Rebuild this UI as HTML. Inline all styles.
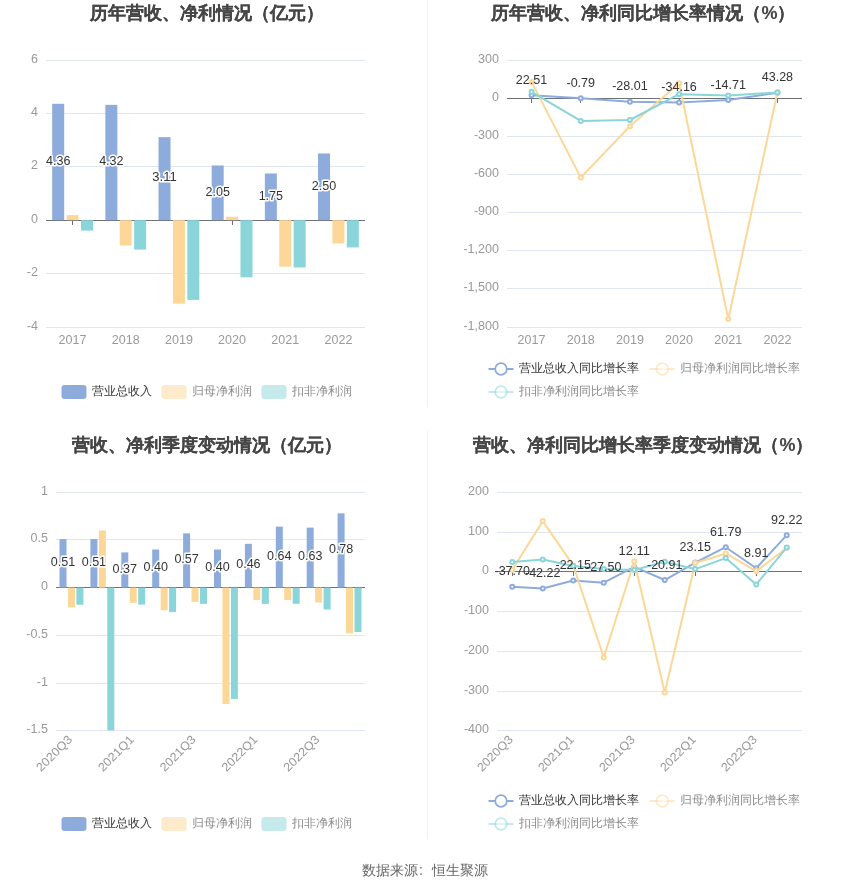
<!DOCTYPE html>
<html><head><meta charset="utf-8"><style>
html,body{margin:0;padding:0;background:#fff;}
svg{display:block;font-family:'Liberation Sans', sans-serif;will-change:transform;}
</style></head><body>
<svg width="850" height="891" viewBox="0 0 850 891">
<rect width="850" height="891" fill="#fff"/>
<rect x="427" y="0" width="1" height="407" fill="#F2F2F2"/>
<rect x="427" y="431" width="1" height="408" fill="#F2F2F2"/>
<text x="206.50" y="18.50" font-size="18" fill="#464646" text-anchor="middle" font-weight="bold"  stroke="#464646" stroke-width="0.12">历年营收、净利情况（亿元）</text>
<rect x="46.00" y="60" width="319.00" height="1" fill="#E0E6F1"/>
<text x="38.00" y="62.80" font-size="12" fill="#999999" text-anchor="end" font-weight="normal" textLength="6.97" lengthAdjust="spacingAndGlyphs" >6</text>
<rect x="46.00" y="113" width="319.00" height="1" fill="#E0E6F1"/>
<text x="38.00" y="115.80" font-size="12" fill="#999999" text-anchor="end" font-weight="normal" textLength="6.97" lengthAdjust="spacingAndGlyphs" >4</text>
<rect x="46.00" y="166" width="319.00" height="1" fill="#E0E6F1"/>
<text x="38.00" y="168.80" font-size="12" fill="#999999" text-anchor="end" font-weight="normal" textLength="6.97" lengthAdjust="spacingAndGlyphs" >2</text>
<text x="38.00" y="222.80" font-size="12" fill="#999999" text-anchor="end" font-weight="normal" textLength="6.97" lengthAdjust="spacingAndGlyphs" >0</text>
<rect x="46.00" y="273" width="319.00" height="1" fill="#E0E6F1"/>
<text x="38.00" y="275.80" font-size="12" fill="#999999" text-anchor="end" font-weight="normal" textLength="11.15" lengthAdjust="spacingAndGlyphs" >-2</text>
<rect x="46.00" y="327" width="319.00" height="1" fill="#E0E6F1"/>
<text x="38.00" y="329.80" font-size="12" fill="#999999" text-anchor="end" font-weight="normal" textLength="11.15" lengthAdjust="spacingAndGlyphs" >-4</text>
<rect x="46.00" y="220" width="319.00" height="1" fill="#6E7079"/>
<rect x="72" y="221" width="1" height="4" fill="#6E7079"/>
<rect x="125" y="221" width="1" height="4" fill="#6E7079"/>
<rect x="178" y="221" width="1" height="4" fill="#6E7079"/>
<rect x="232" y="221" width="1" height="4" fill="#6E7079"/>
<rect x="285" y="221" width="1" height="4" fill="#6E7079"/>
<rect x="338" y="221" width="1" height="4" fill="#6E7079"/>
<rect x="52.18" y="103.79" width="12.00" height="116.41" fill="#8DACDB"/>
<rect x="66.58" y="215.13" width="12.00" height="5.07" fill="#FDD797"/>
<rect x="80.98" y="220.20" width="12.00" height="10.41" fill="#89D5D9"/>
<rect x="105.35" y="104.86" width="12.00" height="115.34" fill="#8DACDB"/>
<rect x="119.75" y="220.20" width="12.00" height="25.36" fill="#FDD797"/>
<rect x="134.15" y="220.20" width="12.00" height="29.37" fill="#89D5D9"/>
<rect x="158.52" y="137.16" width="12.00" height="83.04" fill="#8DACDB"/>
<rect x="172.92" y="220.20" width="12.00" height="83.44" fill="#FDD797"/>
<rect x="187.32" y="220.20" width="12.00" height="79.70" fill="#89D5D9"/>
<rect x="211.68" y="165.47" width="12.00" height="54.73" fill="#8DACDB"/>
<rect x="226.08" y="216.73" width="12.00" height="3.47" fill="#FDD797"/>
<rect x="240.48" y="220.20" width="12.00" height="57.14" fill="#89D5D9"/>
<rect x="264.85" y="173.47" width="12.00" height="46.73" fill="#8DACDB"/>
<rect x="279.25" y="220.20" width="12.00" height="46.46" fill="#FDD797"/>
<rect x="293.65" y="220.20" width="12.00" height="47.26" fill="#89D5D9"/>
<rect x="318.02" y="153.45" width="12.00" height="66.75" fill="#8DACDB"/>
<rect x="332.42" y="220.20" width="12.00" height="23.23" fill="#FDD797"/>
<rect x="346.82" y="220.20" width="12.00" height="27.23" fill="#89D5D9"/>
<text x="58.18" y="164.69" font-size="12" fill="#333333" text-anchor="middle" font-weight="normal" textLength="24.40" lengthAdjust="spacingAndGlyphs" stroke="#fff" stroke-width="3" paint-order="stroke" stroke-linejoin="round">4.36</text>
<text x="111.35" y="165.23" font-size="12" fill="#333333" text-anchor="middle" font-weight="normal" textLength="24.40" lengthAdjust="spacingAndGlyphs" stroke="#fff" stroke-width="3" paint-order="stroke" stroke-linejoin="round">4.32</text>
<text x="164.52" y="181.38" font-size="12" fill="#333333" text-anchor="middle" font-weight="normal" textLength="24.40" lengthAdjust="spacingAndGlyphs" stroke="#fff" stroke-width="3" paint-order="stroke" stroke-linejoin="round">3.11</text>
<text x="217.68" y="195.53" font-size="12" fill="#333333" text-anchor="middle" font-weight="normal" textLength="24.40" lengthAdjust="spacingAndGlyphs" stroke="#fff" stroke-width="3" paint-order="stroke" stroke-linejoin="round">2.05</text>
<text x="270.85" y="199.54" font-size="12" fill="#333333" text-anchor="middle" font-weight="normal" textLength="24.40" lengthAdjust="spacingAndGlyphs" stroke="#fff" stroke-width="3" paint-order="stroke" stroke-linejoin="round">1.75</text>
<text x="324.02" y="189.52" font-size="12" fill="#333333" text-anchor="middle" font-weight="normal" textLength="24.40" lengthAdjust="spacingAndGlyphs" stroke="#fff" stroke-width="3" paint-order="stroke" stroke-linejoin="round">2.50</text>
<text x="72.58" y="344.00" font-size="12" fill="#999999" text-anchor="middle" font-weight="normal" textLength="27.89" lengthAdjust="spacingAndGlyphs" >2017</text>
<text x="125.75" y="344.00" font-size="12" fill="#999999" text-anchor="middle" font-weight="normal" textLength="27.89" lengthAdjust="spacingAndGlyphs" >2018</text>
<text x="178.92" y="344.00" font-size="12" fill="#999999" text-anchor="middle" font-weight="normal" textLength="27.89" lengthAdjust="spacingAndGlyphs" >2019</text>
<text x="232.08" y="344.00" font-size="12" fill="#999999" text-anchor="middle" font-weight="normal" textLength="27.89" lengthAdjust="spacingAndGlyphs" >2020</text>
<text x="285.25" y="344.00" font-size="12" fill="#999999" text-anchor="middle" font-weight="normal" textLength="27.89" lengthAdjust="spacingAndGlyphs" >2021</text>
<text x="338.42" y="344.00" font-size="12" fill="#999999" text-anchor="middle" font-weight="normal" textLength="27.89" lengthAdjust="spacingAndGlyphs" >2022</text>
<rect x="61.50" y="385" width="25" height="14" rx="3" ry="3" fill="#8DACDB" opacity="1"/>
<text x="91.50" y="395.30" font-size="12" fill="#333333" text-anchor="start" font-weight="normal"  opacity="1">营业总收入</text>
<rect x="161.50" y="385" width="25" height="14" rx="3" ry="3" fill="#FDD797" opacity="0.5"/>
<text x="191.50" y="395.30" font-size="12" fill="#333333" text-anchor="start" font-weight="normal"  opacity="0.58">归母净利润</text>
<rect x="261.50" y="385" width="25" height="14" rx="3" ry="3" fill="#89D5D9" opacity="0.5"/>
<text x="291.50" y="395.30" font-size="12" fill="#333333" text-anchor="start" font-weight="normal"  opacity="0.58">扣非净利润</text>
<text x="643.50" y="18.50" font-size="18" fill="#464646" text-anchor="middle" font-weight="bold"  stroke="#464646" stroke-width="0.12">历年营收、净利同比增长率情况（%）</text>
<rect x="507.00" y="60" width="295.00" height="1" fill="#E0E6F1"/>
<text x="499.00" y="62.80" font-size="12" fill="#999999" text-anchor="end" font-weight="normal" textLength="20.92" lengthAdjust="spacingAndGlyphs" >300</text>
<text x="499.00" y="100.80" font-size="12" fill="#999999" text-anchor="end" font-weight="normal" textLength="6.97" lengthAdjust="spacingAndGlyphs" >0</text>
<rect x="507.00" y="136" width="295.00" height="1" fill="#E0E6F1"/>
<text x="499.00" y="138.80" font-size="12" fill="#999999" text-anchor="end" font-weight="normal" textLength="25.09" lengthAdjust="spacingAndGlyphs" >-300</text>
<rect x="507.00" y="174" width="295.00" height="1" fill="#E0E6F1"/>
<text x="499.00" y="176.80" font-size="12" fill="#999999" text-anchor="end" font-weight="normal" textLength="25.09" lengthAdjust="spacingAndGlyphs" >-600</text>
<rect x="507.00" y="212" width="295.00" height="1" fill="#E0E6F1"/>
<text x="499.00" y="214.80" font-size="12" fill="#999999" text-anchor="end" font-weight="normal" textLength="25.09" lengthAdjust="spacingAndGlyphs" >-900</text>
<rect x="507.00" y="250" width="295.00" height="1" fill="#E0E6F1"/>
<text x="499.00" y="252.80" font-size="12" fill="#999999" text-anchor="end" font-weight="normal" textLength="35.55" lengthAdjust="spacingAndGlyphs" >-1,200</text>
<rect x="507.00" y="288" width="295.00" height="1" fill="#E0E6F1"/>
<text x="499.00" y="290.80" font-size="12" fill="#999999" text-anchor="end" font-weight="normal" textLength="35.55" lengthAdjust="spacingAndGlyphs" >-1,500</text>
<rect x="507.00" y="327" width="295.00" height="1" fill="#E0E6F1"/>
<text x="499.00" y="329.80" font-size="12" fill="#999999" text-anchor="end" font-weight="normal" textLength="35.55" lengthAdjust="spacingAndGlyphs" >-1,800</text>
<rect x="507.00" y="98" width="295.00" height="1" fill="#6E7079"/>
<rect x="531" y="99" width="1" height="4" fill="#6E7079"/>
<rect x="580" y="99" width="1" height="4" fill="#6E7079"/>
<rect x="629" y="99" width="1" height="4" fill="#6E7079"/>
<rect x="679" y="99" width="1" height="4" fill="#6E7079"/>
<rect x="728" y="99" width="1" height="4" fill="#6E7079"/>
<rect x="777" y="99" width="1" height="4" fill="#6E7079"/>
<polyline points="531.58,95.28 580.75,98.24 629.92,101.70 679.08,102.49 728.25,100.01 777.42,92.64" fill="none" stroke="#8DACDB" stroke-width="2" stroke-linejoin="round"/>
<circle cx="531.58" cy="95.28" r="2" fill="#fff" stroke="#8DACDB" stroke-width="2"/>
<circle cx="580.75" cy="98.24" r="2" fill="#fff" stroke="#8DACDB" stroke-width="2"/>
<circle cx="629.92" cy="101.70" r="2" fill="#fff" stroke="#8DACDB" stroke-width="2"/>
<circle cx="679.08" cy="102.49" r="2" fill="#fff" stroke="#8DACDB" stroke-width="2"/>
<circle cx="728.25" cy="100.01" r="2" fill="#fff" stroke="#8DACDB" stroke-width="2"/>
<circle cx="777.42" cy="92.64" r="2" fill="#fff" stroke="#8DACDB" stroke-width="2"/>
<polyline points="531.58,81.91 580.75,177.61 629.92,126.20 679.08,83.20 728.25,319.12 777.42,92.17" fill="none" stroke="#FDD797" stroke-width="2" stroke-linejoin="round"/>
<circle cx="531.58" cy="81.91" r="2" fill="#fff" stroke="#FDD797" stroke-width="2"/>
<circle cx="580.75" cy="177.61" r="2" fill="#fff" stroke="#FDD797" stroke-width="2"/>
<circle cx="629.92" cy="126.20" r="2" fill="#fff" stroke="#FDD797" stroke-width="2"/>
<circle cx="679.08" cy="83.20" r="2" fill="#fff" stroke="#FDD797" stroke-width="2"/>
<circle cx="728.25" cy="319.12" r="2" fill="#fff" stroke="#FDD797" stroke-width="2"/>
<circle cx="777.42" cy="92.17" r="2" fill="#fff" stroke="#FDD797" stroke-width="2"/>
<polyline points="531.58,91.79 580.75,120.90 629.92,120.01 679.08,94.20 728.25,95.60 777.42,92.42" fill="none" stroke="#89D5D9" stroke-width="2" stroke-linejoin="round"/>
<circle cx="531.58" cy="91.79" r="2" fill="#fff" stroke="#89D5D9" stroke-width="2"/>
<circle cx="580.75" cy="120.90" r="2" fill="#fff" stroke="#89D5D9" stroke-width="2"/>
<circle cx="629.92" cy="120.01" r="2" fill="#fff" stroke="#89D5D9" stroke-width="2"/>
<circle cx="679.08" cy="94.20" r="2" fill="#fff" stroke="#89D5D9" stroke-width="2"/>
<circle cx="728.25" cy="95.60" r="2" fill="#fff" stroke="#89D5D9" stroke-width="2"/>
<circle cx="777.42" cy="92.42" r="2" fill="#fff" stroke="#89D5D9" stroke-width="2"/>
<text x="531.58" y="83.78" font-size="12" fill="#333333" text-anchor="middle" font-weight="normal" textLength="31.38" lengthAdjust="spacingAndGlyphs" >22.51</text>
<text x="580.75" y="86.74" font-size="12" fill="#333333" text-anchor="middle" font-weight="normal" textLength="28.58" lengthAdjust="spacingAndGlyphs" >-0.79</text>
<text x="629.92" y="90.20" font-size="12" fill="#333333" text-anchor="middle" font-weight="normal" textLength="35.55" lengthAdjust="spacingAndGlyphs" >-28.01</text>
<text x="679.08" y="90.99" font-size="12" fill="#333333" text-anchor="middle" font-weight="normal" textLength="35.55" lengthAdjust="spacingAndGlyphs" >-34.16</text>
<text x="728.25" y="88.51" font-size="12" fill="#333333" text-anchor="middle" font-weight="normal" textLength="35.55" lengthAdjust="spacingAndGlyphs" >-14.71</text>
<text x="777.42" y="81.14" font-size="12" fill="#333333" text-anchor="middle" font-weight="normal" textLength="31.38" lengthAdjust="spacingAndGlyphs" >43.28</text>
<text x="531.58" y="344.00" font-size="12" fill="#999999" text-anchor="middle" font-weight="normal" textLength="27.89" lengthAdjust="spacingAndGlyphs" >2017</text>
<text x="580.75" y="344.00" font-size="12" fill="#999999" text-anchor="middle" font-weight="normal" textLength="27.89" lengthAdjust="spacingAndGlyphs" >2018</text>
<text x="629.92" y="344.00" font-size="12" fill="#999999" text-anchor="middle" font-weight="normal" textLength="27.89" lengthAdjust="spacingAndGlyphs" >2019</text>
<text x="679.08" y="344.00" font-size="12" fill="#999999" text-anchor="middle" font-weight="normal" textLength="27.89" lengthAdjust="spacingAndGlyphs" >2020</text>
<text x="728.25" y="344.00" font-size="12" fill="#999999" text-anchor="middle" font-weight="normal" textLength="27.89" lengthAdjust="spacingAndGlyphs" >2021</text>
<text x="777.42" y="344.00" font-size="12" fill="#999999" text-anchor="middle" font-weight="normal" textLength="27.89" lengthAdjust="spacingAndGlyphs" >2022</text>
<line x1="488.5" y1="369" x2="513.5" y2="369" stroke="#8DACDB" stroke-width="2" opacity="1"/>
<circle cx="501.0" cy="369" r="5.8" fill="#fff" stroke="#8DACDB" stroke-width="1.8" opacity="1"/>
<text x="518.50" y="372.30" font-size="12" fill="#333333" text-anchor="start" font-weight="normal"  opacity="1">营业总收入同比增长率</text>
<line x1="649.8" y1="369" x2="674.8" y2="369" stroke="#FDD797" stroke-width="2" opacity="0.5"/>
<circle cx="662.3" cy="369" r="5.8" fill="#fff" stroke="#FDD797" stroke-width="1.8" opacity="0.5"/>
<text x="679.80" y="372.30" font-size="12" fill="#333333" text-anchor="start" font-weight="normal"  opacity="0.58">归母净利润同比增长率</text>
<line x1="488.5" y1="392" x2="513.5" y2="392" stroke="#89D5D9" stroke-width="2" opacity="0.5"/>
<circle cx="501.0" cy="392" r="5.8" fill="#fff" stroke="#89D5D9" stroke-width="1.8" opacity="0.5"/>
<text x="518.50" y="395.30" font-size="12" fill="#333333" text-anchor="start" font-weight="normal"  opacity="0.58">扣非净利润同比增长率</text>
<text x="206.50" y="450.50" font-size="18" fill="#464646" text-anchor="middle" font-weight="bold"  stroke="#464646" stroke-width="0.12">营收、净利季度变动情况（亿元）</text>
<rect x="56.00" y="492" width="309.00" height="1" fill="#E0E6F1"/>
<text x="48.00" y="494.80" font-size="12" fill="#999999" text-anchor="end" font-weight="normal" textLength="6.97" lengthAdjust="spacingAndGlyphs" >1</text>
<rect x="56.00" y="539" width="309.00" height="1" fill="#E0E6F1"/>
<text x="48.00" y="541.80" font-size="12" fill="#999999" text-anchor="end" font-weight="normal" textLength="17.43" lengthAdjust="spacingAndGlyphs" >0.5</text>
<text x="48.00" y="589.80" font-size="12" fill="#999999" text-anchor="end" font-weight="normal" textLength="6.97" lengthAdjust="spacingAndGlyphs" >0</text>
<rect x="56.00" y="635" width="309.00" height="1" fill="#E0E6F1"/>
<text x="48.00" y="637.80" font-size="12" fill="#999999" text-anchor="end" font-weight="normal" textLength="21.61" lengthAdjust="spacingAndGlyphs" >-0.5</text>
<rect x="56.00" y="683" width="309.00" height="1" fill="#E0E6F1"/>
<text x="48.00" y="685.80" font-size="12" fill="#999999" text-anchor="end" font-weight="normal" textLength="11.15" lengthAdjust="spacingAndGlyphs" >-1</text>
<rect x="56.00" y="730" width="309.00" height="1" fill="#E0E6F1"/>
<text x="48.00" y="732.80" font-size="12" fill="#999999" text-anchor="end" font-weight="normal" textLength="21.61" lengthAdjust="spacingAndGlyphs" >-1.5</text>
<rect x="56.00" y="587" width="309.00" height="1" fill="#6E7079"/>
<rect x="59.50" y="539.05" width="7.00" height="48.55" fill="#8DACDB"/>
<rect x="67.95" y="587.60" width="7.00" height="19.71" fill="#FDD797"/>
<rect x="76.40" y="587.60" width="7.00" height="17.14" fill="#89D5D9"/>
<rect x="90.40" y="539.05" width="7.00" height="48.55" fill="#8DACDB"/>
<rect x="98.85" y="530.48" width="7.00" height="57.12" fill="#FDD797"/>
<rect x="107.30" y="587.60" width="7.00" height="142.80" fill="#89D5D9"/>
<rect x="121.30" y="552.38" width="7.00" height="35.22" fill="#8DACDB"/>
<rect x="129.75" y="587.60" width="7.00" height="15.23" fill="#FDD797"/>
<rect x="138.20" y="587.60" width="7.00" height="16.95" fill="#89D5D9"/>
<rect x="152.20" y="549.52" width="7.00" height="38.08" fill="#8DACDB"/>
<rect x="160.65" y="587.60" width="7.00" height="22.66" fill="#FDD797"/>
<rect x="169.10" y="587.60" width="7.00" height="24.47" fill="#89D5D9"/>
<rect x="183.10" y="533.34" width="7.00" height="54.26" fill="#8DACDB"/>
<rect x="191.55" y="587.60" width="7.00" height="14.28" fill="#FDD797"/>
<rect x="200.00" y="587.60" width="7.00" height="16.28" fill="#89D5D9"/>
<rect x="214.00" y="549.52" width="7.00" height="38.08" fill="#8DACDB"/>
<rect x="222.45" y="587.60" width="7.00" height="116.43" fill="#FDD797"/>
<rect x="230.90" y="587.60" width="7.00" height="111.29" fill="#89D5D9"/>
<rect x="244.90" y="543.81" width="7.00" height="43.79" fill="#8DACDB"/>
<rect x="253.35" y="587.60" width="7.00" height="12.38" fill="#FDD797"/>
<rect x="261.80" y="587.60" width="7.00" height="16.28" fill="#89D5D9"/>
<rect x="275.80" y="526.67" width="7.00" height="60.93" fill="#8DACDB"/>
<rect x="284.25" y="587.60" width="7.00" height="12.38" fill="#FDD797"/>
<rect x="292.70" y="587.60" width="7.00" height="16.18" fill="#89D5D9"/>
<rect x="306.70" y="527.62" width="7.00" height="59.98" fill="#8DACDB"/>
<rect x="315.15" y="587.60" width="7.00" height="14.95" fill="#FDD797"/>
<rect x="323.60" y="587.60" width="7.00" height="21.90" fill="#89D5D9"/>
<rect x="337.60" y="513.34" width="7.00" height="74.26" fill="#8DACDB"/>
<rect x="346.05" y="587.60" width="7.00" height="45.70" fill="#FDD797"/>
<rect x="354.50" y="587.60" width="7.00" height="44.46" fill="#89D5D9"/>
<text x="63.00" y="566.02" font-size="12" fill="#333333" text-anchor="middle" font-weight="normal" textLength="24.40" lengthAdjust="spacingAndGlyphs" stroke="#fff" stroke-width="3" paint-order="stroke" stroke-linejoin="round">0.51</text>
<text x="93.90" y="566.02" font-size="12" fill="#333333" text-anchor="middle" font-weight="normal" textLength="24.40" lengthAdjust="spacingAndGlyphs" stroke="#fff" stroke-width="3" paint-order="stroke" stroke-linejoin="round">0.51</text>
<text x="124.80" y="572.69" font-size="12" fill="#333333" text-anchor="middle" font-weight="normal" textLength="24.40" lengthAdjust="spacingAndGlyphs" stroke="#fff" stroke-width="3" paint-order="stroke" stroke-linejoin="round">0.37</text>
<text x="155.70" y="571.26" font-size="12" fill="#333333" text-anchor="middle" font-weight="normal" textLength="24.40" lengthAdjust="spacingAndGlyphs" stroke="#fff" stroke-width="3" paint-order="stroke" stroke-linejoin="round">0.40</text>
<text x="186.60" y="563.17" font-size="12" fill="#333333" text-anchor="middle" font-weight="normal" textLength="24.40" lengthAdjust="spacingAndGlyphs" stroke="#fff" stroke-width="3" paint-order="stroke" stroke-linejoin="round">0.57</text>
<text x="217.50" y="571.26" font-size="12" fill="#333333" text-anchor="middle" font-weight="normal" textLength="24.40" lengthAdjust="spacingAndGlyphs" stroke="#fff" stroke-width="3" paint-order="stroke" stroke-linejoin="round">0.40</text>
<text x="248.40" y="568.40" font-size="12" fill="#333333" text-anchor="middle" font-weight="normal" textLength="24.40" lengthAdjust="spacingAndGlyphs" stroke="#fff" stroke-width="3" paint-order="stroke" stroke-linejoin="round">0.46</text>
<text x="279.30" y="559.84" font-size="12" fill="#333333" text-anchor="middle" font-weight="normal" textLength="24.40" lengthAdjust="spacingAndGlyphs" stroke="#fff" stroke-width="3" paint-order="stroke" stroke-linejoin="round">0.64</text>
<text x="310.20" y="560.31" font-size="12" fill="#333333" text-anchor="middle" font-weight="normal" textLength="24.40" lengthAdjust="spacingAndGlyphs" stroke="#fff" stroke-width="3" paint-order="stroke" stroke-linejoin="round">0.63</text>
<text x="341.10" y="553.17" font-size="12" fill="#333333" text-anchor="middle" font-weight="normal" textLength="24.40" lengthAdjust="spacingAndGlyphs" stroke="#fff" stroke-width="3" paint-order="stroke" stroke-linejoin="round">0.78</text>
<text font-size="12" fill="#999999" text-anchor="end" textLength="45" lengthAdjust="spacingAndGlyphs" transform="translate(69.85,737.30) rotate(-45)" dy="4.3">2020Q3</text>
<text font-size="12" fill="#999999" text-anchor="end" textLength="45" lengthAdjust="spacingAndGlyphs" transform="translate(131.65,737.30) rotate(-45)" dy="4.3">2021Q1</text>
<text font-size="12" fill="#999999" text-anchor="end" textLength="45" lengthAdjust="spacingAndGlyphs" transform="translate(193.45,737.30) rotate(-45)" dy="4.3">2021Q3</text>
<text font-size="12" fill="#999999" text-anchor="end" textLength="45" lengthAdjust="spacingAndGlyphs" transform="translate(255.25,737.30) rotate(-45)" dy="4.3">2022Q1</text>
<text font-size="12" fill="#999999" text-anchor="end" textLength="45" lengthAdjust="spacingAndGlyphs" transform="translate(317.05,737.30) rotate(-45)" dy="4.3">2022Q3</text>
<rect x="61.50" y="817" width="25" height="14" rx="3" ry="3" fill="#8DACDB" opacity="1"/>
<text x="91.50" y="827.30" font-size="12" fill="#333333" text-anchor="start" font-weight="normal"  opacity="1">营业总收入</text>
<rect x="161.50" y="817" width="25" height="14" rx="3" ry="3" fill="#FDD797" opacity="0.5"/>
<text x="191.50" y="827.30" font-size="12" fill="#333333" text-anchor="start" font-weight="normal"  opacity="0.58">归母净利润</text>
<rect x="261.50" y="817" width="25" height="14" rx="3" ry="3" fill="#89D5D9" opacity="0.5"/>
<text x="291.50" y="827.30" font-size="12" fill="#333333" text-anchor="start" font-weight="normal"  opacity="0.58">扣非净利润</text>
<text x="643.50" y="450.50" font-size="18" fill="#464646" text-anchor="middle" font-weight="bold"  stroke="#464646" stroke-width="0.12">营收、净利同比增长率季度变动情况（%）</text>
<rect x="497.00" y="492" width="305.00" height="1" fill="#E0E6F1"/>
<text x="489.00" y="494.80" font-size="12" fill="#999999" text-anchor="end" font-weight="normal" textLength="20.92" lengthAdjust="spacingAndGlyphs" >200</text>
<rect x="497.00" y="532" width="305.00" height="1" fill="#E0E6F1"/>
<text x="489.00" y="534.80" font-size="12" fill="#999999" text-anchor="end" font-weight="normal" textLength="20.92" lengthAdjust="spacingAndGlyphs" >100</text>
<text x="489.00" y="573.80" font-size="12" fill="#999999" text-anchor="end" font-weight="normal" textLength="6.97" lengthAdjust="spacingAndGlyphs" >0</text>
<rect x="497.00" y="611" width="305.00" height="1" fill="#E0E6F1"/>
<text x="489.00" y="613.80" font-size="12" fill="#999999" text-anchor="end" font-weight="normal" textLength="25.09" lengthAdjust="spacingAndGlyphs" >-100</text>
<rect x="497.00" y="651" width="305.00" height="1" fill="#E0E6F1"/>
<text x="489.00" y="653.80" font-size="12" fill="#999999" text-anchor="end" font-weight="normal" textLength="25.09" lengthAdjust="spacingAndGlyphs" >-200</text>
<rect x="497.00" y="691" width="305.00" height="1" fill="#E0E6F1"/>
<text x="489.00" y="693.80" font-size="12" fill="#999999" text-anchor="end" font-weight="normal" textLength="25.09" lengthAdjust="spacingAndGlyphs" >-300</text>
<rect x="497.00" y="730" width="305.00" height="1" fill="#E0E6F1"/>
<text x="489.00" y="732.80" font-size="12" fill="#999999" text-anchor="end" font-weight="normal" textLength="25.09" lengthAdjust="spacingAndGlyphs" >-400</text>
<rect x="497.00" y="571" width="305.00" height="1" fill="#6E7079"/>
<rect x="512" y="572" width="1" height="4" fill="#6E7079"/>
<rect x="573" y="572" width="1" height="4" fill="#6E7079"/>
<rect x="634" y="572" width="1" height="4" fill="#6E7079"/>
<rect x="695" y="572" width="1" height="4" fill="#6E7079"/>
<rect x="756" y="572" width="1" height="4" fill="#6E7079"/>
<polyline points="512.25,586.69 542.75,588.48 573.25,580.52 603.75,582.64 634.25,566.93 664.75,580.03 695.25,562.55 725.75,547.22 756.25,568.20 786.75,535.15" fill="none" stroke="#8DACDB" stroke-width="2" stroke-linejoin="round"/>
<circle cx="512.25" cy="586.69" r="2" fill="#fff" stroke="#8DACDB" stroke-width="2"/>
<circle cx="542.75" cy="588.48" r="2" fill="#fff" stroke="#8DACDB" stroke-width="2"/>
<circle cx="573.25" cy="580.52" r="2" fill="#fff" stroke="#8DACDB" stroke-width="2"/>
<circle cx="603.75" cy="582.64" r="2" fill="#fff" stroke="#8DACDB" stroke-width="2"/>
<circle cx="634.25" cy="566.93" r="2" fill="#fff" stroke="#8DACDB" stroke-width="2"/>
<circle cx="664.75" cy="580.03" r="2" fill="#fff" stroke="#8DACDB" stroke-width="2"/>
<circle cx="695.25" cy="562.55" r="2" fill="#fff" stroke="#8DACDB" stroke-width="2"/>
<circle cx="725.75" cy="547.22" r="2" fill="#fff" stroke="#8DACDB" stroke-width="2"/>
<circle cx="756.25" cy="568.20" r="2" fill="#fff" stroke="#8DACDB" stroke-width="2"/>
<circle cx="786.75" cy="535.15" r="2" fill="#fff" stroke="#8DACDB" stroke-width="2"/>
<polyline points="512.25,569.79 542.75,521.12 573.25,565.39 603.75,657.49 634.25,561.22 664.75,692.52 695.25,563.01 725.75,553.49 756.25,571.10 786.75,547.93" fill="none" stroke="#FDD797" stroke-width="2" stroke-linejoin="round"/>
<circle cx="512.25" cy="569.79" r="2" fill="#fff" stroke="#FDD797" stroke-width="2"/>
<circle cx="542.75" cy="521.12" r="2" fill="#fff" stroke="#FDD797" stroke-width="2"/>
<circle cx="573.25" cy="565.39" r="2" fill="#fff" stroke="#FDD797" stroke-width="2"/>
<circle cx="603.75" cy="657.49" r="2" fill="#fff" stroke="#FDD797" stroke-width="2"/>
<circle cx="634.25" cy="561.22" r="2" fill="#fff" stroke="#FDD797" stroke-width="2"/>
<circle cx="664.75" cy="692.52" r="2" fill="#fff" stroke="#FDD797" stroke-width="2"/>
<circle cx="695.25" cy="563.01" r="2" fill="#fff" stroke="#FDD797" stroke-width="2"/>
<circle cx="725.75" cy="553.49" r="2" fill="#fff" stroke="#FDD797" stroke-width="2"/>
<circle cx="756.25" cy="571.10" r="2" fill="#fff" stroke="#FDD797" stroke-width="2"/>
<circle cx="786.75" cy="547.93" r="2" fill="#fff" stroke="#FDD797" stroke-width="2"/>
<polyline points="512.25,562.09 542.75,559.40 573.25,565.90 603.75,569.00 634.25,569.99 664.75,561.82 695.25,569.12 725.75,558.09 756.25,584.43 786.75,547.42" fill="none" stroke="#89D5D9" stroke-width="2" stroke-linejoin="round"/>
<circle cx="512.25" cy="562.09" r="2" fill="#fff" stroke="#89D5D9" stroke-width="2"/>
<circle cx="542.75" cy="559.40" r="2" fill="#fff" stroke="#89D5D9" stroke-width="2"/>
<circle cx="573.25" cy="565.90" r="2" fill="#fff" stroke="#89D5D9" stroke-width="2"/>
<circle cx="603.75" cy="569.00" r="2" fill="#fff" stroke="#89D5D9" stroke-width="2"/>
<circle cx="634.25" cy="569.99" r="2" fill="#fff" stroke="#89D5D9" stroke-width="2"/>
<circle cx="664.75" cy="561.82" r="2" fill="#fff" stroke="#89D5D9" stroke-width="2"/>
<circle cx="695.25" cy="569.12" r="2" fill="#fff" stroke="#89D5D9" stroke-width="2"/>
<circle cx="725.75" cy="558.09" r="2" fill="#fff" stroke="#89D5D9" stroke-width="2"/>
<circle cx="756.25" cy="584.43" r="2" fill="#fff" stroke="#89D5D9" stroke-width="2"/>
<circle cx="786.75" cy="547.42" r="2" fill="#fff" stroke="#89D5D9" stroke-width="2"/>
<text x="512.25" y="575.19" font-size="12" fill="#333333" text-anchor="middle" font-weight="normal" textLength="35.55" lengthAdjust="spacingAndGlyphs" >-37.70</text>
<text x="542.75" y="576.98" font-size="12" fill="#333333" text-anchor="middle" font-weight="normal" textLength="35.55" lengthAdjust="spacingAndGlyphs" >-42.22</text>
<text x="573.25" y="569.02" font-size="12" fill="#333333" text-anchor="middle" font-weight="normal" textLength="35.55" lengthAdjust="spacingAndGlyphs" >-22.15</text>
<text x="603.75" y="571.14" font-size="12" fill="#333333" text-anchor="middle" font-weight="normal" textLength="35.55" lengthAdjust="spacingAndGlyphs" >-27.50</text>
<text x="634.25" y="555.43" font-size="12" fill="#333333" text-anchor="middle" font-weight="normal" textLength="31.38" lengthAdjust="spacingAndGlyphs" >12.11</text>
<text x="664.75" y="568.53" font-size="12" fill="#333333" text-anchor="middle" font-weight="normal" textLength="35.55" lengthAdjust="spacingAndGlyphs" >-20.91</text>
<text x="695.25" y="551.05" font-size="12" fill="#333333" text-anchor="middle" font-weight="normal" textLength="31.38" lengthAdjust="spacingAndGlyphs" >23.15</text>
<text x="725.75" y="535.72" font-size="12" fill="#333333" text-anchor="middle" font-weight="normal" textLength="31.38" lengthAdjust="spacingAndGlyphs" >61.79</text>
<text x="756.25" y="556.70" font-size="12" fill="#333333" text-anchor="middle" font-weight="normal" textLength="24.40" lengthAdjust="spacingAndGlyphs" >8.91</text>
<text x="786.75" y="523.65" font-size="12" fill="#333333" text-anchor="middle" font-weight="normal" textLength="31.38" lengthAdjust="spacingAndGlyphs" >92.22</text>
<text font-size="12" fill="#999999" text-anchor="end" textLength="45" lengthAdjust="spacingAndGlyphs" transform="translate(510.65,737.30) rotate(-45)" dy="4.3">2020Q3</text>
<text font-size="12" fill="#999999" text-anchor="end" textLength="45" lengthAdjust="spacingAndGlyphs" transform="translate(571.65,737.30) rotate(-45)" dy="4.3">2021Q1</text>
<text font-size="12" fill="#999999" text-anchor="end" textLength="45" lengthAdjust="spacingAndGlyphs" transform="translate(632.65,737.30) rotate(-45)" dy="4.3">2021Q3</text>
<text font-size="12" fill="#999999" text-anchor="end" textLength="45" lengthAdjust="spacingAndGlyphs" transform="translate(693.65,737.30) rotate(-45)" dy="4.3">2022Q1</text>
<text font-size="12" fill="#999999" text-anchor="end" textLength="45" lengthAdjust="spacingAndGlyphs" transform="translate(754.65,737.30) rotate(-45)" dy="4.3">2022Q3</text>
<line x1="488.5" y1="801" x2="513.5" y2="801" stroke="#8DACDB" stroke-width="2" opacity="1"/>
<circle cx="501.0" cy="801" r="5.8" fill="#fff" stroke="#8DACDB" stroke-width="1.8" opacity="1"/>
<text x="518.50" y="804.30" font-size="12" fill="#333333" text-anchor="start" font-weight="normal"  opacity="1">营业总收入同比增长率</text>
<line x1="649.8" y1="801" x2="674.8" y2="801" stroke="#FDD797" stroke-width="2" opacity="0.5"/>
<circle cx="662.3" cy="801" r="5.8" fill="#fff" stroke="#FDD797" stroke-width="1.8" opacity="0.5"/>
<text x="679.80" y="804.30" font-size="12" fill="#333333" text-anchor="start" font-weight="normal"  opacity="0.58">归母净利润同比增长率</text>
<line x1="488.5" y1="824" x2="513.5" y2="824" stroke="#89D5D9" stroke-width="2" opacity="0.5"/>
<circle cx="501.0" cy="824" r="5.8" fill="#fff" stroke="#89D5D9" stroke-width="1.8" opacity="0.5"/>
<text x="518.50" y="827.30" font-size="12" fill="#333333" text-anchor="start" font-weight="normal"  opacity="0.58">扣非净利润同比增长率</text>
<text x="362.00" y="875.30" font-size="14" fill="#666666" text-anchor="start" font-weight="normal"  >数据来源</text>
<text x="432.00" y="875.30" font-size="14" fill="#666666" text-anchor="start" font-weight="normal"  >恒生聚源</text>
<text x="419.00" y="875.30" font-size="14" fill="#666666" text-anchor="start" font-weight="normal"  >:</text>
</svg></body></html>
